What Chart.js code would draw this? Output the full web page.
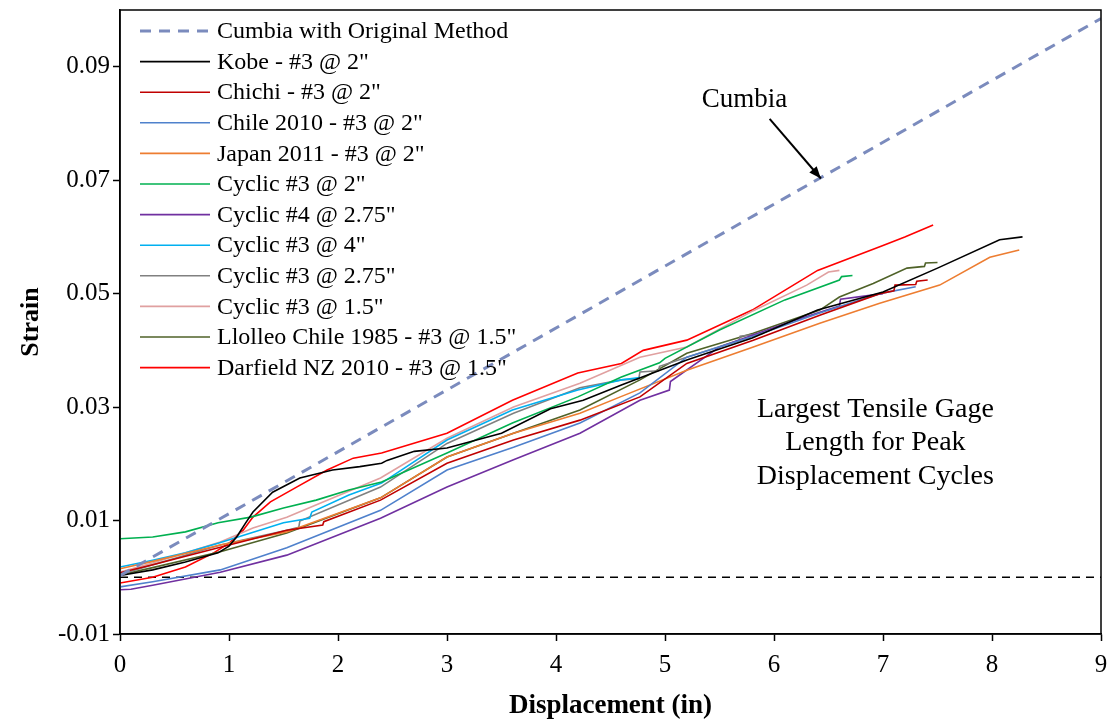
<!DOCTYPE html>
<html>
<head>
<meta charset="utf-8">
<script src="https://cdn.jsdelivr.net/npm/chart.js@4.4.1/dist/chart.umd.min.js"></script>
<style>
  html, body { margin: 0; padding: 0; background: #fff; }
  #wrap { width: 1109px; height: 726px; }
</style>
</head>
<body>
<div id="wrap"><canvas id="strainChart"></canvas></div>
<script>
// tick labels
const xTicks = [0, 1, 2, 3, 4, 5, 6, 7, 8, 9];
const yTicks = [-0.01, 0.01, 0.03, 0.05, 0.07, 0.09];

// series (displacement in, strain)
const cumbiaX = [0, 9];
const cumbiaY = [0.0003, 0.0985];

const kobeX = [0, 0.3, 0.6, 0.9, 1.0, 1.07, 1.15, 1.22, 1.4, 1.65, 1.95, 2.2, 2.4, 2.45, 2.7, 3.0, 3.5, 3.95, 4.25, 4.6, 5.2, 5.8, 6.4, 7.0, 7.5, 8.07, 8.28];
const kobeY = [0.0003, 0.0013, 0.0027, 0.0043, 0.0055, 0.0071, 0.0095, 0.0115, 0.0150, 0.0175, 0.0189, 0.0195, 0.0201, 0.0206, 0.0222, 0.0228, 0.0254, 0.0297, 0.0312, 0.0339, 0.0383, 0.0422, 0.0471, 0.0503, 0.0545, 0.0595, 0.0600];

const chichiX = [0, 0.3, 0.92, 1.53, 1.86, 1.87, 2.39, 3.0, 3.61, 4.22, 4.77, 5.2, 5.81, 6.42, 6.97, 7.1, 7.11, 7.3, 7.31, 7.41];
const chichiY = [0.0008, 0.0022, 0.0053, 0.0083, 0.0092, 0.0098, 0.0136, 0.0201, 0.0242, 0.0277, 0.0318, 0.0377, 0.0418, 0.0462, 0.0500, 0.0505, 0.0515, 0.0516, 0.0522, 0.0524];

const chileX = [0, 0.3, 0.92, 1.53, 2.39, 3.0, 3.61, 4.22, 4.77, 5.2, 5.81, 6.42, 6.97, 7.3];
const chileY = [-0.0017, -0.0008, 0.0013, 0.0052, 0.0118, 0.0189, 0.0229, 0.0272, 0.0325, 0.0388, 0.0425, 0.0466, 0.0500, 0.0512];

const japanX = [0, 0.3, 0.92, 1.53, 2.39, 3.0, 3.61, 4.22, 4.59, 5.2, 5.81, 6.42, 6.97, 7.52, 7.98, 8.25];
const japanY = [0.0015, 0.0028, 0.0057, 0.0080, 0.0140, 0.0212, 0.0254, 0.0289, 0.0318, 0.0365, 0.0406, 0.0448, 0.0483, 0.0515, 0.0564, 0.0577];

const cyc3at2X = [0, 0.3, 0.6, 0.9, 1.2, 1.5, 1.8, 2.1, 2.4, 3.0, 3.6, 4.2, 4.6, 4.95, 5.0, 5.5, 6.1, 6.6, 6.62, 6.72];
const cyc3at2Y = [0.0068, 0.0071, 0.0080, 0.0096, 0.0106, 0.0122, 0.0136, 0.0154, 0.0168, 0.0219, 0.0272, 0.0318, 0.0353, 0.0378, 0.0386, 0.0436, 0.0489, 0.0524, 0.0530, 0.0532];

const cyc4at275X = [0, 0.1, 0.3, 0.92, 1.53, 2.39, 3.0, 3.61, 4.22, 4.77, 5.04, 5.05, 5.5, 6.11, 6.42, 6.6, 6.61, 7.0];
const cyc4at275Y = [-0.0022, -0.0021, -0.0014, 0.0009, 0.0039, 0.0104, 0.0159, 0.0207, 0.0254, 0.0312, 0.0330, 0.0345, 0.0406, 0.0448, 0.0467, 0.0478, 0.0490, 0.0500];

const cyc3at4X = [0, 0.3, 0.6, 0.9, 1.2, 1.5, 1.74, 1.76, 2.1, 2.4, 3.0, 3.6, 4.2, 4.6, 4.77];
const cyc3at4Y = [0.0018, 0.0030, 0.0043, 0.0060, 0.0078, 0.0096, 0.0104, 0.0115, 0.0145, 0.0166, 0.0242, 0.0295, 0.0330, 0.0348, 0.0352];

const cyc3at275X = [0, 0.92, 1.53, 1.64, 1.65, 2.39, 3.0, 3.61, 4.22, 4.6, 4.76, 4.77, 4.94, 4.95, 5.2, 5.68, 5.69, 5.9];
const cyc3at275Y = [0.0005, 0.0057, 0.0083, 0.0088, 0.0099, 0.0159, 0.0236, 0.0289, 0.0334, 0.0348, 0.0350, 0.0362, 0.0364, 0.0372, 0.0388, 0.0418, 0.0425, 0.0430];

const cyc3at15X = [0, 0.3, 0.92, 1.22, 1.53, 1.83, 2.39, 3.0, 3.61, 4.22, 4.77, 5.2, 5.81, 6.3, 6.5, 6.6];
const cyc3at15Y = [0.0009, 0.0025, 0.0062, 0.0087, 0.0106, 0.0130, 0.0175, 0.0245, 0.0300, 0.0342, 0.0388, 0.0406, 0.0470, 0.0515, 0.0538, 0.0541];

const llolleoX = [0, 0.3, 0.92, 1.53, 2.39, 3.0, 3.61, 4.22, 4.77, 5.2, 5.81, 6.42, 6.6, 6.91, 7.22, 7.38, 7.39, 7.5];
const llolleoY = [0.0004, 0.0017, 0.0045, 0.0078, 0.0140, 0.0212, 0.0254, 0.0295, 0.0348, 0.0395, 0.0430, 0.0471, 0.0494, 0.0518, 0.0545, 0.0548, 0.0554, 0.0555];

const darfieldX = [0, 0.3, 0.6, 0.86, 1.0, 1.13, 1.22, 1.38, 1.62, 1.9, 2.14, 2.4, 3.0, 3.6, 4.2, 4.6, 4.8, 5.2, 5.8, 6.4, 7.0, 7.2, 7.46];
const darfieldY = [-0.001, 0.0, 0.0018, 0.0043, 0.0060, 0.0083, 0.0106, 0.0133, 0.0159, 0.0189, 0.0210, 0.0219, 0.0254, 0.0312, 0.0360, 0.0377, 0.0400, 0.0418, 0.0471, 0.0541, 0.0585, 0.0600, 0.0621];

const zeroX = [0, 9];
const zeroY = [0, 0];

const pts = (xs, ys) => xs.map((x, i) => ({ x: x, y: ys[i] }));

function series(label, xs, ys, color, extra) {
    return Object.assign({
        label: label,
        data: pts(xs, ys),
        borderColor: color,
        backgroundColor: color,
        borderWidth: 1.6,
        pointRadius: 0,
        showLine: true,
        tension: 0
    }, extra || {});
}

const datasets = [
    series('Cumbia with Original Method', cumbiaX, cumbiaY, '#7b8bbd', { borderWidth: 3, borderDash: [11, 8] }),
    series('Kobe - #3 @ 2"', kobeX, kobeY, '#000000'),
    series('Chichi - #3 @ 2"', chichiX, chichiY, '#c00000'),
    series('Chile 2010 - #3 @ 2"', chileX, chileY, '#4f81cc'),
    series('Japan 2011 - #3 @ 2"', japanX, japanY, '#ed7d31'),
    series('Cyclic #3 @ 2"', cyc3at2X, cyc3at2Y, '#00b050'),
    series('Cyclic #4 @ 2.75"', cyc4at275X, cyc4at275Y, '#7030a0'),
    series('Cyclic #3 @ 4"', cyc3at4X, cyc3at4Y, '#00b0f0'),
    series('Cyclic #3 @ 2.75"', cyc3at275X, cyc3at275Y, '#808080'),
    series('Cyclic #3 @ 1.5"', cyc3at15X, cyc3at15Y, '#e0a0a0'),
    series('Llolleo Chile 1985 - #3 @ 1.5"', llolleoX, llolleoY, '#4f6228'),
    series('Darfield NZ 2010 - #3 @ 1.5"', darfieldX, darfieldY, '#ff0000'),
    series('', zeroX, zeroY, '#000000', { borderWidth: 1.6, borderDash: [8, 6] })
];

const SERIF = '"Liberation Serif", "Times New Roman", serif';

// frame, inline legend and notes
const extras = {
    id: 'extras',
    afterDraw(chart) {
        const ctx = chart.ctx;
        const a = chart.chartArea;
        const sx = chart.scales.x, sy = chart.scales.y;
        ctx.save();
        ctx.strokeStyle = '#000';
        ctx.lineWidth = 1.5;
        ctx.strokeRect(a.left, a.top, a.right - a.left, a.bottom - a.top);

        // legend
        ctx.font = '24px ' + SERIF;
        ctx.textBaseline = 'middle';
        ctx.textAlign = 'left';
        chart.data.datasets.forEach((ds, i) => {
            if (!ds.label) return;
            const y = 31 + i * 30.6;
            ctx.beginPath();
            ctx.strokeStyle = ds.borderColor;
            ctx.lineWidth = ds.borderWidth;
            ctx.setLineDash(ds.borderDash || []);
            ctx.moveTo(a.left + 20, y);
            ctx.lineTo(a.left + 90, y);
            ctx.stroke();
            ctx.setLineDash([]);
            ctx.fillStyle = '#000';
            ctx.fillText(ds.label, a.left + 97, y + 1);
        });

        // Cumbia note with arrow
        ctx.font = '27px ' + SERIF;
        ctx.textAlign = 'center';
        ctx.fillText('Cumbia', sx.getPixelForValue(5.73), sy.getPixelForValue(0.0841));
        const x1 = sx.getPixelForValue(5.96), y1 = sy.getPixelForValue(0.0808);
        const x2 = sx.getPixelForValue(6.43), y2 = sy.getPixelForValue(0.0703);
        ctx.strokeStyle = '#000';
        ctx.lineWidth = 2;
        ctx.beginPath();
        ctx.moveTo(x1, y1);
        ctx.lineTo(x2, y2);
        ctx.stroke();
        const ang = Math.atan2(y2 - y1, x2 - x1);
        ctx.beginPath();
        ctx.moveTo(x2, y2);
        ctx.lineTo(x2 - 13 * Math.cos(ang - 0.38), y2 - 13 * Math.sin(ang - 0.38));
        ctx.lineTo(x2 - 13 * Math.cos(ang + 0.38), y2 - 13 * Math.sin(ang + 0.38));
        ctx.closePath();
        ctx.fillStyle = '#000';
        ctx.fill();

        ctx.font = '28px ' + SERIF;
        const cx = sx.getPixelForValue(6.93);
        ctx.fillText('Largest Tensile Gage', cx, sy.getPixelForValue(0.0295));
        ctx.fillText('Length for Peak', cx, sy.getPixelForValue(0.0237));
        ctx.fillText('Displacement Cycles', cx, sy.getPixelForValue(0.0177));
        ctx.restore();
    }
};

new Chart(document.getElementById('strainChart').getContext('2d'), {
    type: 'scatter',
    data: { datasets: datasets },
    options: {
        responsive: true,
        maintainAspectRatio: false,
        animation: false,
        layout: { padding: { top: 10, right: 8, left: 0, bottom: 0 } },
        plugins: {
            legend: { display: false },
            tooltip: { enabled: false }
        },
        scales: {
            x: {
                type: 'linear',
                min: 0,
                max: 9,
                afterBuildTicks: s => { s.ticks = xTicks.map(v => ({ value: v })); },
                afterFit: s => { s.height = 92; s.paddingLeft = 0; s.paddingRight = 0; },
                grid: { drawOnChartArea: false, color: '#000', tickLength: 7, tickWidth: 1.5 },
                border: { color: '#000', width: 1.5 },
                ticks: { color: '#000', font: { family: SERIF, size: 25 }, padding: 9, maxRotation: 0 },
                title: {
                    display: true,
                    text: 'Displacement (in)',
                    color: '#000',
                    font: { family: SERIF, size: 27, weight: 'bold' },
                    padding: { top: 0, bottom: 4 }
                }
            },
            y: {
                type: 'linear',
                min: -0.01,
                max: 0.1,
                afterBuildTicks: s => { s.ticks = yTicks.map(v => ({ value: v })); },
                afterFit: s => { s.width = 120; s.paddingTop = 0; s.paddingBottom = 0; },
                grid: { drawOnChartArea: false, color: '#000', tickLength: 7, tickWidth: 1.5 },
                border: { color: '#000', width: 1.5 },
                ticks: {
                    color: '#000',
                    font: { family: SERIF, size: 25 },
                    padding: 3,
                    callback: v => v.toFixed(2)
                },
                title: {
                    display: true,
                    text: 'Strain',
                    color: '#000',
                    font: { family: SERIF, size: 26, weight: 'bold' },
                    padding: { top: 16, bottom: 0 }
                }
            }
        }
    },
    plugins: [extras]
});
</script>
</body>
</html>
